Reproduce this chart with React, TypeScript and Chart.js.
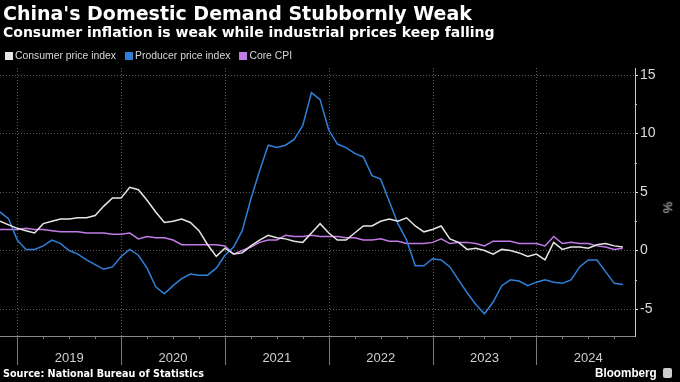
import React, { useEffect, useRef } from "react";
import { Chart, registerables } from "chart.js";

Chart.register(...registerables);

// Monthly, Oct 2018 .. Oct 2024 (year-on-year %, plotted at month end)
const startLabel = "2018-10";
const cpi = [
  2.5, 2.2, 1.9,
  1.7, 1.5, 2.3, 2.5, 2.7, 2.7, 2.8, 2.8, 3.0, 3.8, 4.5, 4.5,
  5.4, 5.2, 4.3, 3.3, 2.4, 2.5, 2.7, 2.4, 1.7, 0.5, -0.5, 0.2,
  -0.3, -0.2, 0.4, 0.9, 1.3, 1.1, 1.0, 0.8, 0.7, 1.5, 2.3, 1.5,
  0.9, 0.9, 1.5, 2.1, 2.1, 2.5, 2.7, 2.5, 2.8, 2.1, 1.6, 1.8,
  2.1, 1.0, 0.7, 0.1, 0.2, 0.0, -0.3, 0.1, 0.0, -0.2, -0.5, -0.3,
  -0.8, 0.7, 0.1, 0.3, 0.3, 0.2, 0.5, 0.6, 0.4, 0.3,
];
const ppi = [
  3.3, 2.7, 0.9,
  0.1, 0.1, 0.4, 0.9, 0.6, 0.0, -0.3, -0.8, -1.2, -1.6, -1.4, -0.5,
  0.1, -0.4, -1.5, -3.1, -3.7, -3.0, -2.4, -2.0, -2.1, -2.1, -1.5, -0.4,
  0.3, 1.7, 4.4, 6.8, 9.0, 8.8, 9.0, 9.5, 10.7, 13.5, 12.9, 10.3,
  9.1, 8.8, 8.3, 8.0, 6.4, 6.1, 4.2, 2.3, 0.9, -1.3, -1.3, -0.7,
  -0.8, -1.4, -2.5, -3.6, -4.6, -5.4, -4.4, -3.0, -2.5, -2.6, -3.0, -2.7,
  -2.5, -2.7, -2.8, -2.5, -1.4, -0.8, -0.8, -1.8, -2.8, -2.9,
];
const coreCpi = [
  1.8, 1.8, 1.8,
  1.9, 1.8, 1.8, 1.7, 1.6, 1.6, 1.6, 1.5, 1.5, 1.5, 1.4, 1.4,
  1.5, 1.0, 1.2, 1.1, 1.1, 0.9, 0.5, 0.5, 0.5, 0.5, 0.5, 0.4,
  -0.3, 0.0, 0.3, 0.7, 0.9, 0.9, 1.3, 1.2, 1.2, 1.3, 1.2, 1.2,
  1.2, 1.1, 1.1, 0.9, 0.9, 1.0, 0.8, 0.8, 0.6, 0.6, 0.6, 0.7,
  1.0, 0.6, 0.7, 0.7, 0.6, 0.4, 0.8, 0.8, 0.8, 0.6, 0.6, 0.6,
  0.4, 1.2, 0.6, 0.7, 0.6, 0.6, 0.4, 0.3, 0.1, 0.2,
];
const years = ["2019", "2020", "2021", "2022", "2023", "2024"];
const yTicks = [-5, 0, 5, 10, 15];
const seriesNames = ["Consumer price index", "Producer price index", "Core CPI"];
const seriesColors = ["#e6e6e6", "#2f80d8", "#c27ae6"];

// x value = months since Jan 2019, at the end of each month
function monthEndX(i: number): number {
  const [y, m] = startLabel.split("-").map(Number);
  return (y - 2019) * 12 + (m - 1) + i + 1;
}

export default function App() {
  const ref = useRef<HTMLCanvasElement | null>(null);

  useEffect(() => {
    document.body.style.margin = "0";
    document.body.style.background = "#000";
    const canvas = ref.current!;
    const toPts = (arr: number[]) => arr.map((v, i) => ({ x: monthEndX(i), y: v }));

    const xAxisPlugin = {
      id: "xAxisCustom",
      beforeDatasetsDraw(chart: any) {
        const { ctx, chartArea, scales } = chart;
        const xs = scales.x;
        ctx.save();
        ctx.strokeStyle = "#5a5a5a";
        ctx.lineWidth = 1;
        ctx.setLineDash([1, 2]);
        years.forEach((_, k) => {
          const px = Math.round(xs.getPixelForValue(k * 12)) + 0.5;
          ctx.beginPath();
          ctx.moveTo(px, chartArea.top);
          ctx.lineTo(px, chartArea.bottom);
          ctx.stroke();
        });
        ctx.setLineDash([]);
        ctx.strokeStyle = "#7a7a7a";
        years.forEach((_, k) => {
          const px = Math.round(xs.getPixelForValue(k * 12)) + 0.5;
          ctx.beginPath();
          ctx.moveTo(px, chartArea.bottom);
          ctx.lineTo(px, chartArea.bottom + 29);
          ctx.stroke();
        });
        for (let m = -1; m <= 71; m++) {
          if (m % 3 !== 0 || m % 12 === 0) continue;
          const px = Math.round(xs.getPixelForValue(m)) + 0.5;
          if (px > chartArea.right) continue;
          ctx.beginPath();
          ctx.moveTo(px, chartArea.bottom);
          ctx.lineTo(px, chartArea.bottom + 3);
          ctx.stroke();
        }
        ctx.strokeStyle = "#8a8a8a";
        ctx.beginPath();
        ctx.moveTo(chartArea.left, chartArea.bottom + 0.5);
        ctx.lineTo(chartArea.right, chartArea.bottom + 0.5);
        ctx.stroke();
        ctx.fillStyle = "#cfcfcf";
        ctx.font = "13px 'Liberation Sans', Arial, sans-serif";
        ctx.textAlign = "center";
        ctx.textBaseline = "middle";
        years.forEach((y, k) => {
          ctx.fillText(y, xs.getPixelForValue(k * 12 + 6), chartArea.bottom + 22);
        });
        const ys = scales.y;
        ctx.strokeStyle = "#cfcfcf";
        [-2.5, 2.5, 7.5, 12.5].forEach((v) => {
          const py = Math.round(ys.getPixelForValue(v)) + 0.5;
          ctx.beginPath();
          ctx.moveTo(chartArea.right, py);
          ctx.lineTo(chartArea.right + 2, py);
          ctx.stroke();
        });
        ctx.restore();
      },
    };

    const chart = new Chart(canvas, {
      type: "line",
      data: {
        datasets: [
          { label: seriesNames[0], data: toPts(cpi), borderColor: seriesColors[0], borderWidth: 1.5, pointRadius: 0, tension: 0 },
          { label: seriesNames[1], data: toPts(ppi), borderColor: seriesColors[1], borderWidth: 1.5, pointRadius: 0, tension: 0 },
          { label: seriesNames[2], data: toPts(coreCpi), borderColor: seriesColors[2], borderWidth: 1.5, pointRadius: 0, tension: 0 },
        ],
      },
      options: {
        animation: false,
        responsive: false,
        maintainAspectRatio: false,
        layout: { padding: { top: 68, bottom: 46, left: 0, right: 0 } },
        plugins: { legend: { display: false }, tooltip: { enabled: false } },
        scales: {
          x: { type: "linear", min: -2, max: 71.4, display: false },
          y: {
            position: "right",
            min: -7.3,
            max: 15.6,
            afterBuildTicks: (scale: any) => {
              scale.ticks = yTicks.map((v) => ({ value: v }));
            },
            afterFit: (scale: any) => {
              scale.width = 45;
            },
            ticks: {
              color: "#dcdcdc",
              font: { size: 14, family: "'Liberation Sans', Arial, sans-serif" },
              padding: 2,
            },
            grid: {
              color: "#5a5a5a",
              tickColor: "#e0e0e0",
              tickLength: 3,
              drawOnChartArea: true,
            },
            border: { display: true, color: "#c8c8c8", dash: [1, 2] },
          },
        },
      },
      plugins: [xAxisPlugin],
    });
    return () => chart.destroy();
  }, []);

  const abs: React.CSSProperties = { position: "absolute", whiteSpace: "nowrap" };
  return (
    <div style={{ position: "relative", width: 680, height: 382, background: "#000", overflow: "hidden" }}>
      <canvas ref={ref} width={680} height={382} style={{ position: "absolute", left: 0, top: 0 }} />
      <div style={{ ...abs, left: 3, top: 2, color: "#fff", font: "bold 19px 'DejaVu Sans', sans-serif" }}>
        China's Domestic Demand Stubbornly Weak
      </div>
      <div style={{ ...abs, left: 3, top: 24, color: "#fff", font: "bold 14px 'DejaVu Sans', sans-serif" }}>
        Consumer inflation is weak while industrial prices keep falling
      </div>
      <div style={{ ...abs, left: 5, top: 50, display: "flex", alignItems: "center", color: "#d8d8d8", font: "10.4px 'Liberation Sans', Arial, sans-serif" }}>
        {seriesNames.map((n, i) => (
          <span key={n} style={{ display: "flex", alignItems: "center", marginRight: 9 }}>
            <span style={{ width: 8, height: 8, background: seriesColors[i], display: "inline-block", marginRight: 2 }} />
            {n}
          </span>
        ))}
      </div>
      <div style={{ ...abs, left: 662, top: 200, color: "#d0d0d0", font: "13px 'Liberation Sans', Arial, sans-serif", transform: "rotate(90deg)" }}>%</div>
      <div style={{ ...abs, left: 3, top: 367, color: "#fff", font: "bold 11px 'DejaVu Sans', sans-serif", transform: "scaleX(0.875)", transformOrigin: "left center" }}>
        Source: National Bureau of Statistics
      </div>
      <div style={{ ...abs, left: 595, top: 365, color: "#fff", font: "bold 13px 'Liberation Sans', Arial, sans-serif", display: "flex", alignItems: "center" }}>
        <span style={{ display: "inline-block", transform: "scaleX(0.9)", transformOrigin: "left center", width: 62 }}>Bloomberg</span>
        <span style={{ display: "inline-block", width: 9, height: 10, background: "#cfcfcf", marginLeft: 6, borderRadius: 2 }} />
      </div>
    </div>
  );
}
